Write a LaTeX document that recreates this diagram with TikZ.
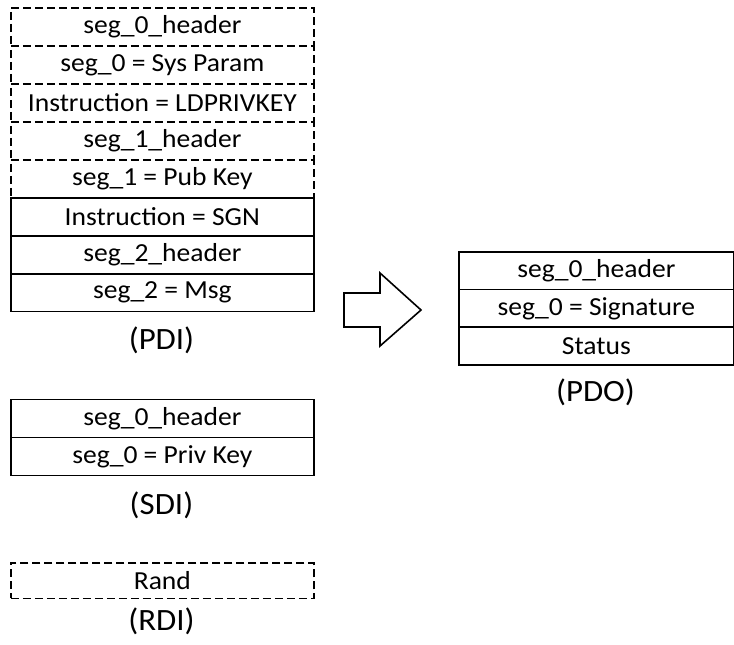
\documentclass[tikz,border=0pt]{standalone}
\usepackage{fontspec}
\setmainfont{Carlito}[FakeStretch=1.06]
\begin{document}
\begin{tikzpicture}[x=1pt,y=1pt,
  cell/.style={draw, line width=1.7pt, minimum width=303pt, minimum height=38pt,
    inner sep=0pt, anchor=north west, font=\fontsize{26}{30}\selectfont},
  dcell/.style={cell, dash pattern=on 8pt off 4pt},
  pcell/.style={cell, minimum width=275pt, minimum height=37.7pt},
  caption/.style={inner sep=0pt, font=\fontsize{31}{36}\selectfont}]
\useasboundingbox (0,0) rectangle (734,-645);
% PDI
\node[dcell] (p1) at (10,-7) {seg\_0\_header};
\node[dcell] (p2) at (10,-45) {seg\_0 = Sys Param};
\node[dcell] (p3) at (10,-83) {Instruction = LDPRIVKEY};
\node[dcell] (p4) at (10,-121) {seg\_1\_header};
\node[dcell] (p5) at (10,-159) {seg\_1 = Pub Key};
\node[cell] (p6) at (10,-197) {Instruction = SGN};
\node[cell] (p7) at (10,-235) {seg\_2\_header};
\node[cell] (p8) at (10,-272.5) {seg\_2 = Msg};
\node[caption] (pdi) at (161.5,-340) {(PDI)};
% SDI
\node[cell] (s1) at (10,-398.5) {seg\_0\_header};
\node[cell] (s2) at (10,-436.5) {seg\_0 = Priv Key};
\node[caption] (sdi) at (161.5,-505) {(SDI)};
% RDI
\node[dcell, minimum height=35.5pt] (r1) at (10,-562) {Rand};
\node[caption] (rdi) at (161.5,-621) {(RDI)};
% PDO
\node[pcell] (o1) at (458,-251) {seg\_0\_header};
\node[pcell] (o2) at (458,-288.7) {seg\_0 = Signature};
\node[pcell] (o3) at (458,-326.4) {Status};
\node[caption] (pdo) at (595.5,-392) {(PDO)};
% block arrow
\draw[line width=1.6pt, line join=miter]
  (344,-293) -- (380,-293) -- (380,-273) -- (421,-310) -- (380,-346)
  -- (380,-327) -- (344,-327) -- cycle;
\end{tikzpicture}
\end{document}
